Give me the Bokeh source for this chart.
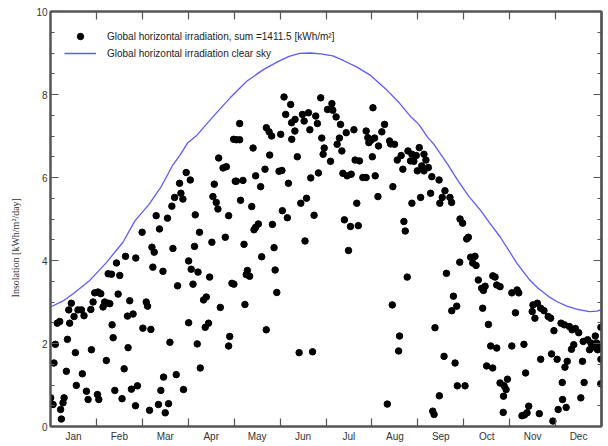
from bokeh.plotting import figure
from bokeh.models import LinearAxis, FixedTicker, SingleIntervalTicker, Range1d
from bokeh.embed import file_html
from bokeh.resources import INLINE

# Daily global horizontal irradiation (day of year, kWh/m²/day)
day = [0.1, 1.7, 6.7, 7.2, 9.0, 8.3, 3.2, 2.3, 4.5, 6.1, 12.7, 11.2, 10.5, 13.8, 12.1, 15.6, 18.2, 20.5,
       22.2, 26.7, 28.2, 29.3, 31.5, 33.3, 34.8, 35.9, 38.2, 39.3, 38.2, 40.4, 45.9, 43.7, 49.7, 56.5,
       60.7, 44.8, 52.5, 51.0, 54.7, 40.8, 41.5, 51.4, 27.1, 16.5, 37.0, 48.8, 21.1, 17.1, 23.8, 24.9,
       31.1, 32.0, 42.6, 47.4, 53.6, 57.6, 56.3, 61.2,
       70.0, 72.2, 77.5, 80.4, 82.2, 85.5, 86.4, 87.7, 89.9, 92.6, 95.9, 98.7, 95.4, 91.5, 93.2, 97.7,
       81.1, 67.2, 68.7, 67.8, 74.5, 84.2, 94.4, 105.4, 103.2, 101.4, 63.4, 64.3, 66.5, 91.5, 104.7,
       102.5, 112.5, 79.1, 97.2, 118.7, 118.0, 99.2, 83.3, 74.9, 73.1, 88.1, 65.6, 71.5, 78.2, 76.0,
       111.4, 114.3, 116.5, 121.3, 122.4, 108.5, 107.6, 109.8, 110.9, 118.0, 106.9, 115.8, 120.2,
       125.3, 123.1, 125.3, 134.2, 143.0, 144.8, 146.5, 152.5, 154.7, 159.1, 155.8, 159.7, 162.0,
       161.9, 159.8, 166.9, 168.0, 170.9, 171.8, 175.7, 176.8, 179.0, 179.7, 181.3, 180.6, 183.5,
       163.5, 145.2, 142.1, 135.9, 139.2, 151.4, 153.3, 157.6, 123.1, 127.5, 125.9, 133.3, 153.6,
       156.9, 147.0, 165.8, 169.6, 172.4, 177.5, 174.6, 137.7, 135.9, 134.8, 128.2, 148.1, 139.9,
       168.6, 148.8, 130.4, 129.7, 131.9, 121.5, 149.9, 128.8, 142.9, 164.7, 173.6,
       186.4, 187.0, 189.2, 192.1, 195.9, 201.0, 191.4, 189.9, 193.0, 185.5, 209.1, 210.2, 212.4,
       210.9, 214.7, 213.6, 219.5, 221.3, 217.3, 224.6, 227.9, 225.3, 201.8, 204.7, 213.2, 193.7,
       196.5, 199.2, 206.9, 209.1, 215.1, 216.9, 202.9, 226.8, 229.7, 232.3, 233.4, 236.8, 239.4,
       240.7, 238.5, 242.3, 243.0, 239.4, 194.7, 198.7, 203.9, 197.4, 234.1, 235.0, 236.3, 226.4,
       231.2, 230.6, 223.1,
       244.3, 247.4, 248.7, 245.9, 247.4, 250.3, 252.6, 257.4, 245.2, 251.8, 257.9, 259.5, 261.3,
       264.6, 265.7, 271.3, 273.0, 275.7, 276.8, 271.1, 278.3, 281.2, 279.7, 281.9, 262.3, 283.4,
       285.6, 287.9, 286.8, 293.0, 294.5, 295.6, 297.8, 305.6, 266.9, 269.1, 265.8, 286.3, 290.1,
       254.7, 291.6, 295.6, 305.6, 260.7, 268.0, 288.9, 292.9, 269.5, 274.6, 297.8, 300.5, 302.7,
       301.8, 300.1, 257.6, 253.2, 254.1, 299.9,
       309.1, 310.2, 308.0, 319.6, 322.5, 324.7, 326.9, 319.1, 320.9, 329.7, 331.3, 338.2, 340.4,
       343.7, 345.5, 347.7, 349.9, 333.5, 352.9, 355.8, 358.0, 360.9, 361.8, 363.5, 362.4, 357.1,
       358.8, 346.6, 345.1, 364.6, 313.6, 324.7, 331.9, 335.6, 342.3, 340.8, 352.4, 364.6, 314.7,
       339.0, 353.5, 364.5, 351.3, 339.2, 316.8, 315.7, 312.3, 314.0, 323.8, 336.3, 341.6, 332.8]
irr = [0.69, 0.53, 0.41, 0.18, 0.69, 0.57, 1.98, 1.53, 2.49, 2.53, 2.49, 2.10, 1.33, 2.97, 2.81, 2.65, 2.81, 2.81,
       2.67, 2.82, 3.00, 3.22, 3.24, 3.20, 2.88, 3.00, 2.97, 2.96, 3.68, 3.67, 3.64, 3.94, 4.10, 4.06,
       4.68, 3.19, 3.03, 2.66, 2.71, 2.45, 2.14, 1.90, 1.85, 1.78, 1.59, 1.39, 1.27, 0.99, 0.85, 0.65,
       0.77, 0.65, 0.87, 0.67, 0.90, 0.98, 0.50, 2.37,
       5.08, 4.76, 5.02, 5.31, 5.52, 5.86, 5.62, 5.48, 6.12, 5.94, 5.10, 4.68, 4.34, 3.99, 3.79, 3.72,
       4.29, 4.32, 4.20, 3.84, 3.74, 3.39, 3.43, 3.60, 3.12, 3.05, 3.00, 2.90, 2.34, 2.50, 2.49,
       2.39, 2.87, 2.03, 1.99, 2.17, 1.94, 1.41, 1.25, 1.19, 0.87, 0.89, 0.39, 0.53, 0.55, 0.33,
       6.47, 6.23, 6.26, 6.92, 5.91, 5.84, 5.54, 5.40, 5.24, 5.08, 4.44, 4.56, 3.45,
       7.30, 6.91, 6.91, 6.71, 7.20, 7.10, 7.00, 7.04, 7.94, 7.76, 7.52, 7.32, 7.40,
       7.12, 6.92, 7.52, 7.36, 7.56, 7.15, 7.48, 7.30, 7.92, 6.95, 6.71, 6.56, 7.64,
       6.50, 6.54, 6.20, 6.04, 5.78, 6.15, 6.17, 5.86, 5.91, 5.93, 5.45, 5.30, 5.20,
       5.03, 4.87, 5.38, 5.50, 5.99, 6.11, 5.09, 4.88, 4.80, 4.74, 4.39, 4.31, 4.09,
       4.47, 3.77, 3.76, 3.66, 3.62, 3.43, 3.23, 2.94, 2.33, 1.78, 1.80,
       7.78, 7.62, 7.46, 7.28, 7.08, 7.15, 6.95, 6.80, 6.64, 6.39, 7.12, 6.96, 6.90,
       6.84, 6.95, 7.68, 7.10, 7.28, 6.76, 6.88, 6.80, 6.81, 6.42, 6.40, 6.50, 6.10,
       6.04, 6.08, 6.00, 6.00, 6.04, 5.54, 5.38, 5.78, 6.42, 6.53, 6.20, 6.64, 6.56,
       6.39, 6.40, 6.53, 6.16, 5.38, 4.98, 4.82, 4.84, 4.24, 4.94, 4.71, 3.60, 2.93,
       2.18, 1.82, 0.54,
       6.72, 6.56, 6.42, 6.28, 6.16, 6.24, 6.02, 5.94, 5.52, 5.62, 5.38, 5.52, 5.68,
       5.52, 5.40, 5.00, 4.90, 4.52, 4.56, 3.96, 4.08, 4.10, 3.94, 3.88, 3.69, 3.53,
       3.33, 3.38, 3.28, 3.63, 3.60, 3.41, 3.37, 3.22, 3.14, 2.90, 2.79, 2.85, 2.46,
       2.38, 1.94, 1.89, 1.94, 1.69, 1.53, 1.46, 1.41, 0.98, 0.98, 1.05, 0.98, 1.14,
       0.89, 0.73, 0.74, 0.37, 0.29, 0.34,
       3.29, 3.22, 2.74, 2.93, 2.97, 2.85, 2.79, 2.77, 2.61, 2.65, 2.61, 2.49, 2.45,
       2.41, 2.33, 2.36, 2.26, 2.31, 2.05, 2.09, 2.01, 2.18, 2.01, 1.93, 1.85, 1.85,
       1.91, 1.97, 1.86, 2.39, 1.98, 1.62, 1.75, 1.62, 1.57, 1.43, 1.57, 1.62, 1.29,
       1.06, 1.06, 1.03, 0.69, 0.65, 0.49, 0.33, 0.26, 0.28, 0.31, 0.41, 0.46, 0.13]

# Clear-sky global horizontal irradiation
clear_day = [0, 8, 15, 26, 37, 48, 56, 65, 73, 81, 86, 91, 97, 108, 119, 130, 141, 150, 158, 165,
             172, 179, 187, 194, 203, 212, 223, 231, 239, 244, 250, 254, 263, 270, 277, 285, 291,
             298, 304, 309, 317, 323, 330, 336, 342, 349, 357, 362, 365]
clear_val = [2.88, 3.02, 3.2, 3.52, 3.95, 4.44, 4.96, 5.34, 5.76, 6.3, 6.55, 6.84, 7.02, 7.48, 7.92,
             8.32, 8.6, 8.78, 8.92, 8.99, 9.0, 8.98, 8.93, 8.82, 8.66, 8.46, 8.1, 7.8, 7.45, 7.28,
             6.96, 6.8, 6.32, 5.92, 5.55, 5.2, 4.9, 4.56, 4.22, 3.93, 3.55, 3.33, 3.13, 3.0, 2.9,
             2.82, 2.77, 2.78, 2.82]

month_labels = ["Jan", "Feb", "Mar", "Apr", "May", "Jun", "Jul", "Aug", "Sep", "Oct", "Nov", "Dec"]
legend_obs = "Global horizontal irradiation, sum =1411.5 [kWh/m²]"
legend_clear = "Global horizontal irradiation clear sky"
y_title = "Insolation [kWh/m²/day]"

mlen = 365 / 12
mid = [round(mlen * (i + 0.5), 2) for i in range(12)]
bounds = [round(mlen * i, 2) for i in range(1, 12)]
y_major = [0, 2, 4, 6, 8, 10]
y_minor = [0.5 * k for k in range(21) if k % 4 != 0]

p = figure(width=606, height=444, output_backend="svg", toolbar_location=None,
           x_range=Range1d(0, 365), y_range=Range1d(0, 10),
           min_border_left=50, min_border_right=5, min_border_top=11, min_border_bottom=17,
           background_fill_color="white", border_fill_color="white")
p.grid.visible = False
p.outline_line_color = "#555555"
p.outline_line_width = 2

p.scatter(day, irr, size=6.5, color="black", legend_label=legend_obs)
p.line(clear_day, clear_val, line_color="#5b5bff", line_width=1.3, legend_label=legend_clear)

AX = "#555555"
TXT = "#333333"

def tick_only_axis(minor, length):
    ax = LinearAxis(ticker=FixedTicker(ticks=[], minor_ticks=minor))
    ax.major_tick_in = 0
    ax.major_tick_out = 0
    ax.minor_tick_in = length
    ax.minor_tick_out = 0
    ax.minor_tick_line_color = AX
    ax.minor_tick_line_width = 1.2
    ax.axis_line_color = AX
    ax.axis_line_width = 2
    ax.major_label_standoff = 0
    ax.axis_label_standoff = 0
    return ax

# bottom axis: month names centred in each month, ticks at month boundaries
xa = p.xaxis[0]
xa.ticker = FixedTicker(ticks=mid, minor_ticks=bounds)
xa.major_label_overrides = {m: lab for m, lab in zip(mid, month_labels)}
xa.major_tick_in = 0
xa.major_tick_out = 0
xa.minor_tick_in = 8
xa.minor_tick_out = 0
xa.minor_tick_line_color = AX
xa.minor_tick_line_width = 1.2
xa.axis_line_color = AX
xa.axis_line_width = 2
xa.major_label_text_font = "Liberation Sans"
xa.major_label_text_font_size = "10px"
xa.major_label_text_color = TXT
xa.major_label_standoff = 4

# left axis
ya = p.yaxis[0]
ya.ticker = SingleIntervalTicker(interval=2, num_minor_ticks=4)
ya.major_tick_in = 8
ya.major_tick_out = 0
ya.minor_tick_in = 4
ya.minor_tick_out = 0
ya.major_tick_line_color = AX
ya.minor_tick_line_color = AX
ya.major_tick_line_width = 1.2
ya.minor_tick_line_width = 1.2
ya.axis_line_color = AX
ya.axis_line_width = 2
ya.major_label_text_font = "Liberation Sans"
ya.major_label_text_font_size = "10px"
ya.major_label_text_color = TXT
ya.major_label_standoff = 3
ya.axis_label = y_title + "\u00a0" * 23
ya.axis_label_text_font = "Liberation Serif"
ya.axis_label_text_font_style = "normal"
ya.axis_label_text_font_size = "10px"
ya.axis_label_text_color = TXT
ya.axis_label_standoff = 12

# top and right: tick marks only
p.add_layout(tick_only_axis(bounds, 8), "above")
p.add_layout(tick_only_axis(y_major, 8), "right")
p.add_layout(tick_only_axis(y_minor, 4), "right")

lg = p.legend[0]
lg.location = (14, 365)
lg.padding = 0
lg.margin = 0
lg.spacing = 1
lg.glyph_width = 32
lg.glyph_height = 16
lg.label_height = 16
lg.label_standoff = 11
lg.border_line_color = None
lg.background_fill_alpha = 0
lg.label_text_font = "Liberation Sans"
lg.label_text_font_size = "10px"
lg.label_text_color = "#222222"

open("out.html", "w").write(file_html(p, INLINE))
